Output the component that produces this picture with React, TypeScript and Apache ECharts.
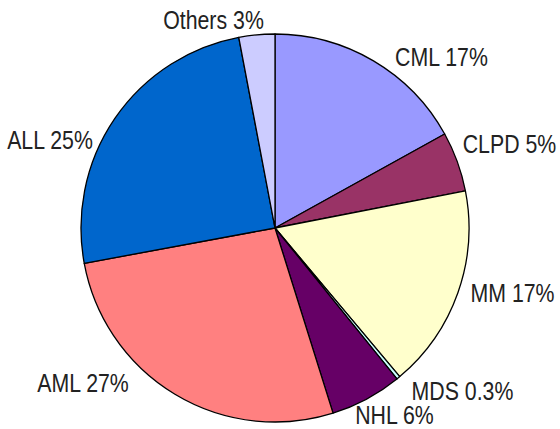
import React, { useEffect, useRef } from "react";
import * as echarts from "echarts";

// ---- data ----
const categories = ["CML", "CLPD", "MM", "MDS", "NHL", "AML", "ALL", "Others"];
const percentages = [17, 5, 17, 0.3, 6, 27, 25, 3];

// ---- styling / layout (not data) ----
const sliceColors = ["#9999FF", "#993366", "#FFFFCC", "#CCFFFF", "#660066", "#FF8080", "#0066CC", "#CCCCFF"];
// label text centres, as placed in the reference
const labelCenters: [number, number][] = [
  [441.5, 57],
  [509.5, 144],
  [512.5, 292.5],
  [462.5, 391],
  [394.5, 415],
  [83, 382.5],
  [50, 139.5],
  [213.5, 19.5],
];

export default function App() {
  const ref = useRef<HTMLDivElement>(null);
  useEffect(() => {
    if (!ref.current) return;
    const chart = echarts.init(ref.current, undefined, { renderer: "svg" });
    chart.setOption({
      animation: false,
      backgroundColor: "#ffffff",
      graphic: categories.map((name, i) => ({
        type: "text",
        x: labelCenters[i][0],
        y: labelCenters[i][1],
        scaleX: 0.82,
        silent: true,
        style: {
          text: `${name} ${percentages[i]}%`,
          fontFamily: "'Liberation Sans', Arial, sans-serif",
          fontSize: 26,
          fill: "#222222",
          align: "center",
          verticalAlign: "middle",
        },
      })),
      series: [
        {
          type: "pie",
          center: [275, 228],
          radius: 194,
          startAngle: 90,
          clockwise: true,
          avoidLabelOverlap: false,
          data: categories.map((name, i) => ({
            name,
            value: percentages[i],
            itemStyle: { color: sliceColors[i] },
          })),
          itemStyle: { borderColor: "#000000", borderWidth: 1.3 },
          label: { show: false },
          labelLine: { show: false },
          emphasis: { disabled: true },
        },
      ],
    });
    return () => chart.dispose();
  }, []);
  return (
    <div
      ref={ref}
      style={{ position: "fixed", left: 0, top: 0, width: 560, height: 429 }}
    />
  );
}
